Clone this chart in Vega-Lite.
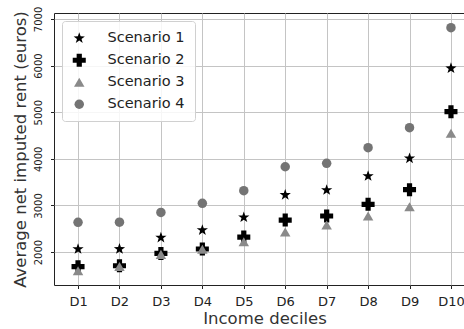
{
  "$schema": "https://vega.github.io/schema/vega-lite/v6.json",
  "autosize": "none",
  "padding": {"left": 54, "top": 13, "right": 0, "bottom": 44},
  "width": 421,
  "height": 272,
  "background": "white",
  "config": {
    "font": "DejaVu Sans",
    "view": {"stroke": "#222222", "strokeWidth": 1}
  },
  "data": {
    "values": [
      {"decile": "D1", "scenario": "Scenario 1", "value": 2064},
      {"decile": "D2", "scenario": "Scenario 1", "value": 2065},
      {"decile": "D3", "scenario": "Scenario 1", "value": 2310},
      {"decile": "D4", "scenario": "Scenario 1", "value": 2470},
      {"decile": "D5", "scenario": "Scenario 1", "value": 2745},
      {"decile": "D6", "scenario": "Scenario 1", "value": 3225},
      {"decile": "D7", "scenario": "Scenario 1", "value": 3330},
      {"decile": "D8", "scenario": "Scenario 1", "value": 3630},
      {"decile": "D9", "scenario": "Scenario 1", "value": 4010},
      {"decile": "D10", "scenario": "Scenario 1", "value": 5942},
      {"decile": "D1", "scenario": "Scenario 2", "value": 1685},
      {"decile": "D2", "scenario": "Scenario 2", "value": 1706},
      {"decile": "D3", "scenario": "Scenario 2", "value": 1970},
      {"decile": "D4", "scenario": "Scenario 2", "value": 2065},
      {"decile": "D5", "scenario": "Scenario 2", "value": 2320},
      {"decile": "D6", "scenario": "Scenario 2", "value": 2687},
      {"decile": "D7", "scenario": "Scenario 2", "value": 2773},
      {"decile": "D8", "scenario": "Scenario 2", "value": 3024},
      {"decile": "D9", "scenario": "Scenario 2", "value": 3337},
      {"decile": "D10", "scenario": "Scenario 2", "value": 5010},
      {"decile": "D1", "scenario": "Scenario 3", "value": 1600},
      {"decile": "D2", "scenario": "Scenario 3", "value": 1690},
      {"decile": "D3", "scenario": "Scenario 3", "value": 1950},
      {"decile": "D4", "scenario": "Scenario 3", "value": 2060},
      {"decile": "D5", "scenario": "Scenario 3", "value": 2220},
      {"decile": "D6", "scenario": "Scenario 3", "value": 2430},
      {"decile": "D7", "scenario": "Scenario 3", "value": 2580},
      {"decile": "D8", "scenario": "Scenario 3", "value": 2773},
      {"decile": "D9", "scenario": "Scenario 3", "value": 2972},
      {"decile": "D10", "scenario": "Scenario 3", "value": 4547},
      {"decile": "D1", "scenario": "Scenario 4", "value": 2637},
      {"decile": "D2", "scenario": "Scenario 4", "value": 2640},
      {"decile": "D3", "scenario": "Scenario 4", "value": 2850},
      {"decile": "D4", "scenario": "Scenario 4", "value": 3045},
      {"decile": "D5", "scenario": "Scenario 4", "value": 3316},
      {"decile": "D6", "scenario": "Scenario 4", "value": 3830},
      {"decile": "D7", "scenario": "Scenario 4", "value": 3903},
      {"decile": "D8", "scenario": "Scenario 4", "value": 4238},
      {"decile": "D9", "scenario": "Scenario 4", "value": 4667},
      {"decile": "D10", "scenario": "Scenario 4", "value": 6814}
    ]
  },
  "mark": {"type": "point", "filled": true, "opacity": 1, "strokeWidth": 0},
  "encoding": {
    "x": {
      "field": "decile",
      "type": "ordinal",
      "sort": ["D1", "D2", "D3", "D4", "D5", "D6", "D7", "D8", "D9", "D10"],
      "scale": {"type": "point", "padding": 0.58},
      "axis": {
        "title": "Income deciles",
        "titleFontSize": 16.5,
        "titleFontWeight": "normal",
        "titleColor": "#333333",
        "titlePadding": 2,
        "labelAngle": 0,
        "labelFontSize": 13,
        "labelColor": "#222222",
        "labelPadding": 7,
        "tickSize": 3.5,
        "tickColor": "#222222",
        "domain": false,
        "grid": true,
        "gridColor": "#c4c4c4",
        "gridWidth": 1
      }
    },
    "y": {
      "field": "value",
      "type": "quantitative",
      "scale": {"domain": [1293, 7128], "nice": false, "zero": false},
      "axis": {
        "title": "Average net imputed rent (euros)",
        "titleFontSize": 16.5,
        "titleFontWeight": "normal",
        "titleColor": "#333333",
        "titlePadding": 5,
        "values": [2000, 3000, 4000, 5000, 6000, 7000],
        "format": "d",
        "labelAngle": 270,
        "labelAlign": "center",
        "labelBaseline": "bottom",
        "labelFontSize": 10,
        "labelColor": "#222222",
        "labelPadding": 7,
        "tickSize": 3.5,
        "tickColor": "#222222",
        "domain": false,
        "grid": true,
        "gridColor": "#c4c4c4",
        "gridWidth": 1
      }
    },
    "shape": {
      "field": "scenario",
      "type": "nominal",
      "scale": {
        "domain": ["Scenario 1", "Scenario 2", "Scenario 3", "Scenario 4"],
        "range": [
          "M0,-1L0.235,-0.324L0.951,-0.309L0.380,0.124L0.588,0.809L0,0.4L-0.588,0.809L-0.380,0.124L-0.951,-0.309L-0.235,-0.324Z",
          "cross",
          "triangle-up",
          "circle"
        ]
      },
      "legend": {
        "title": null,
        "orient": "none",
        "legendX": 8,
        "legendY": 8,
        "fillColor": "rgba(255,255,255,0.85)",
        "strokeColor": "#d0d0d0",
        "cornerRadius": 3,
        "padding": 10,
        "labelFontSize": 14.5,
        "labelColor": "#222222",
        "labelOffset": 21,
        "rowPadding": 7,
        "symbolStrokeWidth": 0,
        "symbolOpacity": 1
      }
    },
    "color": {
      "field": "scenario",
      "type": "nominal",
      "scale": {
        "domain": ["Scenario 1", "Scenario 2", "Scenario 3", "Scenario 4"],
        "range": ["#000000", "#000000", "#8a8a8a", "#747474"]
      },
      "legend": {
        "title": null,
        "orient": "none",
        "legendX": 8,
        "legendY": 8,
        "fillColor": "rgba(255,255,255,0.85)",
        "strokeColor": "#d0d0d0",
        "cornerRadius": 3,
        "padding": 10,
        "labelFontSize": 14.5,
        "labelColor": "#222222",
        "labelOffset": 21,
        "rowPadding": 7,
        "symbolStrokeWidth": 0,
        "symbolOpacity": 1
      }
    },
    "size": {
      "field": "scenario",
      "type": "nominal",
      "scale": {
        "type": "ordinal",
        "domain": ["Scenario 1", "Scenario 2", "Scenario 3", "Scenario 4"],
        "range": [140, 170, 110, 90]
      },
      "legend": {
        "title": null,
        "orient": "none",
        "legendX": 8,
        "legendY": 8,
        "fillColor": "rgba(255,255,255,0.85)",
        "strokeColor": "#d0d0d0",
        "cornerRadius": 3,
        "padding": 10,
        "labelFontSize": 14.5,
        "labelColor": "#222222",
        "labelOffset": 21,
        "rowPadding": 7,
        "symbolStrokeWidth": 0,
        "symbolOpacity": 1
      }
    }
  }
}
